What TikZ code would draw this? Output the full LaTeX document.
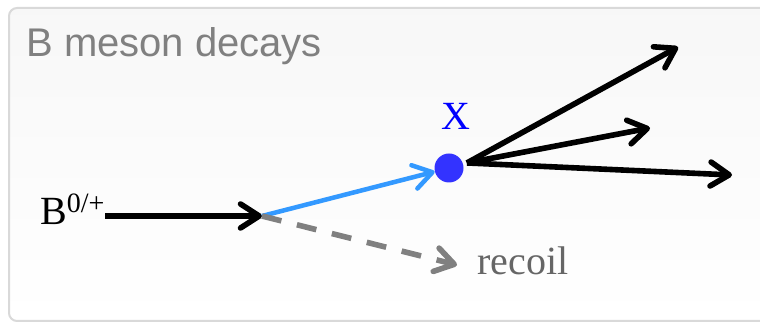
\documentclass[tikz,border=0pt]{standalone}
\usepackage{fontspec}
\setmainfont{Liberation Serif}
\newfontfamily\titlefont{Liberation Sans}
\usetikzlibrary{arrows.meta,positioning}
\definecolor{frameline}{HTML}{D9D9D9}
\definecolor{titlegray}{HTML}{808080}
\definecolor{xblue}{HTML}{3333FF}
\definecolor{lightblue}{HTML}{3399FF}

\tikzset{
  barb/.style={-{Straight Barb[length=14pt,width=18pt,line cap=round,line join=round]}},
  decay/.style={barb, line width=4.2pt, black},
  label/.style={inner sep=0pt, font=\fontsize{30}{36}\selectfont}
}

\begin{document}
\begin{tikzpicture}[x=0.75pt,y=-0.75pt]
    \clip (0,0) rectangle (760,323);
    % panel
    \draw[frameline, line width=1.5pt, rounded corners=6pt,
          top color=black!3, bottom color=white]
        (9,8) rectangle (790,321);
    \node[label, anchor=base west, text=titlegray] (title) at (26,57) {\titlefont B meson decays};

    \node[label, anchor=base west] (bmeson) at (40,225) {B\textsuperscript{0/+}};
    \coordinate (vtx) at (262,216);
    \node[circle, fill=xblue, minimum size=21.75pt, inner sep=0pt] (xdot) at (449,168) {};
    \node[label, anchor=base, text=blue] (xlab) at (456,130) {X};
    \node[label, anchor=base west, text=black!60] (recoil) at (477,275) {recoil};

    \coordinate (p1) at (678,47);
    \coordinate (p2) at (650,128);
    \coordinate (p3) at (732,175);

    \draw[decay] (bmeson.east |- vtx) -- (vtx);
    \draw[decay, lightblue, line width=3.4pt] (vtx) -- (xdot);
    \draw[barb, titlegray, line width=4.2pt, dash pattern=on 15pt off 12pt]
        (vtx) -- ([xshift=-15]recoil.west |- 0,265);
    \foreach \p in {p1,p2,p3}
        \draw[decay] ([xshift=3]xdot.20) -- (\p);
\end{tikzpicture}
\end{document}
